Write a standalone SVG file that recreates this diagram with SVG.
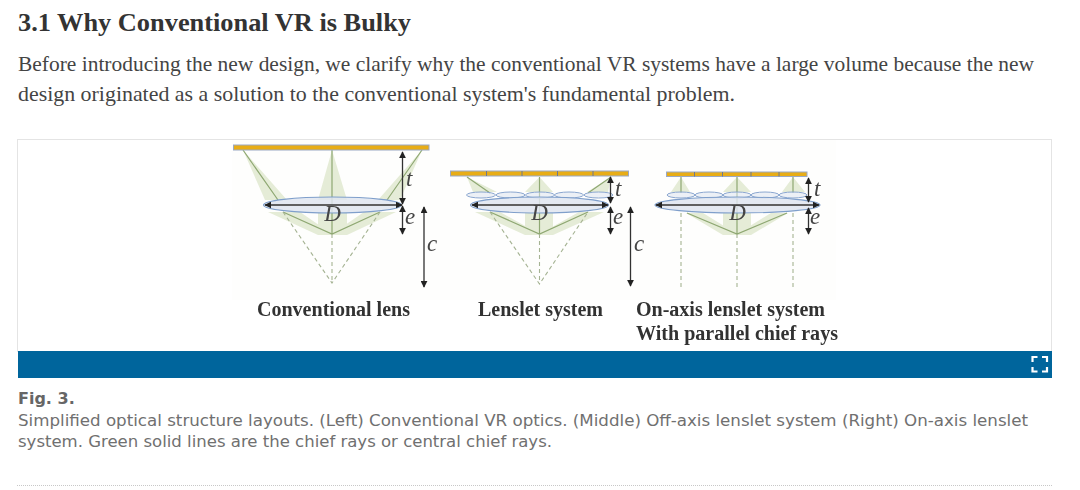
<svg xmlns="http://www.w3.org/2000/svg" width="1080" height="490" viewBox="0 0 1080 490">
<style>
.h{font:bold 24.5px "Liberation Serif",serif;fill:#333}
.b{font:22px "Liberation Serif",serif;fill:#444}
.l{font:bold 20px "Liberation Serif",serif;fill:#333}
.cap{font:16px "DejaVu Sans",sans-serif;fill:#707070}
.capb{font:bold 16px "DejaVu Sans",sans-serif;fill:#666}
.v{font:italic 23px "Liberation Serif",serif;fill:#444}
.cone{fill:#dfe7cd;fill-opacity:.8}
.ray{stroke:#8fa873;stroke-width:1.2;fill:none}
.dash{stroke:#a5b393;stroke-width:1.1;stroke-dasharray:4 3;fill:none}
.bar{fill:#e8ad16;stroke:#9aa8c4;stroke-width:1}
.sep{stroke:#6d7890;stroke-width:1}
.lens{fill:#dfe5f0;fill-opacity:.85;stroke:#7f9fcb;stroke-width:1.1}
.let{fill:#dfe5f0;fill-opacity:.55;stroke:#8aa6cf;stroke-width:1}
.dim{stroke:#333;stroke-width:1.3;fill:none;marker-start:url(#ah);marker-end:url(#ah)}
.soft{filter:url(#soft)}
</style>
<defs>
<marker id="ah" viewBox="0 0 10 10" refX="9" refY="5" markerWidth="7" markerHeight="7" markerUnits="userSpaceOnUse" orient="auto-start-reverse"><path d="M0 0L10 5L0 10Z" fill="#222"/></marker>
<filter id="soft" x="-5%" y="-5%" width="110%" height="110%"><feGaussianBlur stdDeviation="0.35"/></filter>
</defs>
<rect width="1080" height="490" fill="#fff"/>
<text class="h" x="18" y="31" textLength="393" lengthAdjust="spacingAndGlyphs">3.1 Why Conventional VR is Bulky</text>
<text class="b" x="18" y="71" textLength="1016" lengthAdjust="spacingAndGlyphs">Before introducing the new design, we clarify why the conventional VR systems have a large volume because the new</text>
<text class="b" x="18" y="101" textLength="717" lengthAdjust="spacingAndGlyphs">design originated as a solution to the conventional system's fundamental problem.</text>

<rect x="17.500" y="139.500" width="1034" height="212" fill="#fff" stroke="#e4e4e4"/>
<rect x="232" y="140" width="604" height="160" fill="#fefefd"/>

<g id="panel-conventional" class="soft">
<path class="cone" d="M243 150L265 200H287ZM332 150L318 200H347ZM422 150L378 200H400ZM268 212H300L332 234H318V212H347V234L332 234L364 212H396L347 235H318Z"/>
<g id="connectors-conventional">
<path class="ray" d="M243 150L278 200M332 150V234M422 150L387 200M283 212L332 234L380 212"/>
<path class="dash" d="M283 212L332 283L380 212M332 234V283"/>
</g>
<rect class="bar" x="233.500" y="145" width="195.500" height="5"/>
<ellipse class="lens" cx="332.500" cy="205" rx="69" ry="8"/>
<path class="dim" d="M265 205H402"/>
<path class="dim" d="M402.500 152V204"/>
<path class="dim" d="M402.500 206V234"/>
<path class="dim" d="M424 207V287"/>
<text class="v" x="332.500" y="221" text-anchor="middle">D</text>
<text class="v" x="406" y="186">t</text>
<text class="v" x="405" y="224">e</text>
<text class="v" x="427" y="251">c</text>
<text class="l" x="257" y="316" textLength="153" lengthAdjust="spacingAndGlyphs">Conventional lens</text>
</g>

<g id="panel-lenslet" class="soft">
<path class="cone" d="M467 177L473 192H497ZM539.500 177L525 192H553ZM611 177L587 192H608ZM475 212H500L539.500 234H525V212H553V234L539.500 234L579 212H604L553 235H525Z"/>
<g id="connectors-lenslet">
<path class="ray" d="M467 177L490 193M539.500 177V234M611 177L588 193M490 212L539.500 234L588 212"/>
<path class="dash" d="M490 212L539.500 284L588 212M539.500 234V284"/>
</g>
<rect class="bar" x="450.500" y="171" width="178" height="5"/>
<path class="sep" d="M486.500 171V176M522 171V176M557.500 171V176M593 171V176"/>
<g>
<ellipse class="let" cx="481" cy="195" rx="14.500" ry="3"/><ellipse class="let" cx="510.500" cy="195" rx="14.500" ry="3"/><ellipse class="let" cx="540" cy="195" rx="14.500" ry="3"/><ellipse class="let" cx="569" cy="195" rx="14.500" ry="3"/><ellipse class="let" cx="598.500" cy="195" rx="14.500" ry="3"/>
</g>
<ellipse class="lens" cx="539.500" cy="205" rx="69" ry="8"/>
<path class="dim" d="M472 205H608"/>
<path class="dim" d="M610.500 177V203"/>
<path class="dim" d="M610.500 207V234"/>
<path class="dim" d="M630.500 207V286"/>
<text class="v" x="539.500" y="220" text-anchor="middle">D</text>
<text class="v" x="615" y="196">t</text>
<text class="v" x="613" y="224">e</text>
<text class="v" x="634" y="251">c</text>
<text class="l" x="478" y="316" textLength="125" lengthAdjust="spacingAndGlyphs">Lenslet system</text>
</g>

<g id="panel-onaxis" class="soft">
<path class="cone" d="M681 177L671 192H690ZM737 177L723 192H751ZM793 177L782 192H805ZM686 213H703L737 234H723V213H751V234L737 234L771 213H788L751 235H723Z"/>
<g id="connectors-onaxis">
<path class="ray" d="M681 177V193M737 177V234M793 177V193M687 213L737 234L787 213"/>
<path class="dash" d="M681 213V287M737 234V287M793 213V287"/>
</g>
<rect class="bar" x="666.500" y="172" width="140.500" height="4.500"/>
<path class="sep" d="M694.500 172V176.500M722.500 172V176.500M751 172V176.500M779 172V176.500"/>
<g>
<ellipse class="let" cx="681" cy="195" rx="14" ry="3"/><ellipse class="let" cx="709" cy="195" rx="14" ry="3"/><ellipse class="let" cx="737" cy="195" rx="14" ry="3"/><ellipse class="let" cx="765" cy="195" rx="14" ry="3"/><ellipse class="let" cx="793" cy="195" rx="14" ry="3"/>
</g>
<ellipse class="lens" cx="737.500" cy="205" rx="82.500" ry="8"/>
<path class="dim" d="M656 205H819"/>
<path class="dim" d="M808.500 178V202"/>
<path class="dim" d="M808.500 208V234"/>
<text class="v" x="737.500" y="220" text-anchor="middle">D</text>
<text class="v" x="814" y="196">t</text>
<text class="v" x="810" y="224">e</text>
<text class="l" x="636" y="316" textLength="189" lengthAdjust="spacingAndGlyphs">On-axis lenslet system</text>
<text class="l" x="636" y="340" textLength="202" lengthAdjust="spacingAndGlyphs">With parallel chief rays</text>
</g>

<rect x="18" y="351" width="1034" height="27" fill="#00659c"/>
<path d="M1032.500 362V357H1037.500M1042 357H1047V362M1047 367V371.500H1042M1037.500 371.500H1032.500V367" fill="none" stroke="#fff" stroke-width="2.200"/>

<text class="capb" x="18" y="404">Fig. 3.</text>
<text class="cap" x="18" y="426" textLength="1010" lengthAdjust="spacingAndGlyphs">Simplified optical structure layouts. (Left) Conventional VR optics. (Middle) Off-axis lenslet system (Right) On-axis lenslet</text>
<text class="cap" x="18" y="447" textLength="534" lengthAdjust="spacingAndGlyphs">system. Green solid lines are the chief rays or central chief rays.</text>
<path d="M17 485.500H1052" stroke="#c8c8c8" stroke-dasharray="1 1"/>
</svg>
